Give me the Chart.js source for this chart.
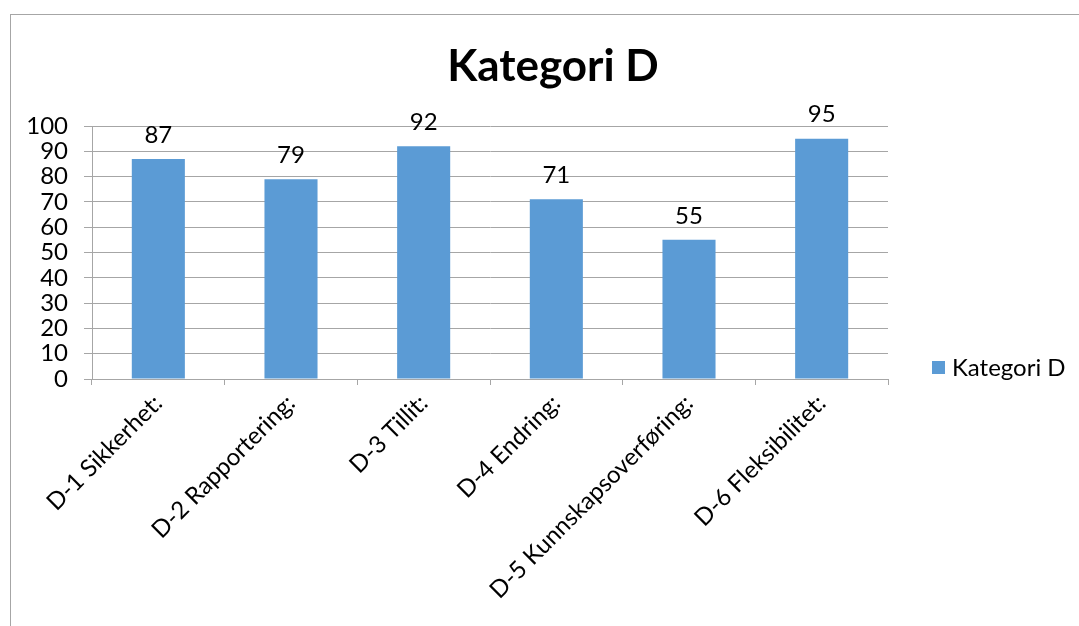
<!DOCTYPE html>
<html>
<head>
<meta charset="utf-8">
<script src="https://cdn.jsdelivr.net/npm/chart.js@4"></script>
<style>
  html, body { margin: 0; padding: 0; background: #fff; overflow: hidden; }
  #wrap { position: relative; width: 1079px; height: 626px; }
  #frame { position: absolute; left: 10px; top: 14px; width: 1100px; height: 700px; border: 1px solid #a6a6a6; }
  canvas { position: absolute; left: 0; top: 0; }
</style>
</head>
<body>
<div id="wrap">
  <div id="frame"></div>
  <canvas id="chart" width="1079" height="626"></canvas>
</div>
<script>
var categories = ["D-1 Sikkerhet:", "D-2 Rapportering:", "D-3 Tillit:", "D-4 Endring:", "D-5 Kunnskapsoverføring:", "D-6 Fleksibilitet:"];
var values = [87, 79, 92, 71, 55, 95];
var seriesName = "Kategori D";
var chartTitle = "Kategori D";

var fontFamily = "Lato, 'Open Sans', sans-serif";
var barColor = "#5b9bd5";
var gridColor = "#a6a6a6";

// Title, value labels and legend drawn on top of the chart
var extras = {
  id: "extras",
  afterDraw: function (chart) {
    var ctx = chart.ctx;
    ctx.save();
    ctx.fillStyle = "#000";

    // title
    ctx.font = "bold 44px " + fontFamily;
    ctx.textAlign = "center";
    ctx.textBaseline = "middle";
    ctx.fillText(chartTitle, 553, 67);

    // value labels
    ctx.font = "24px " + fontFamily;
    ctx.textBaseline = "bottom";
    var meta = chart.getDatasetMeta(0);
    meta.data.forEach(function (bar, i) {
      ctx.fillText(values[i], bar.x, bar.y - 12);
    });

    // legend
    ctx.fillStyle = barColor;
    ctx.fillRect(932, 361, 13, 13);
    ctx.fillStyle = "#000";
    ctx.textAlign = "left";
    ctx.textBaseline = "middle";
    ctx.fillText(seriesName, 952, 368);
    ctx.restore();
  }
};

var ctx = document.getElementById("chart").getContext("2d");
var myChart = new Chart(ctx, {
  type: "bar",
  data: {
    labels: categories,
    datasets: [
      {
        label: seriesName,
        data: values,
        backgroundColor: barColor,
        borderWidth: 0,
        categoryPercentage: 1,
        barPercentage: 0.4,
      },
    ],
  },
  options: {
    responsive: false,
    animation: false,
    layout: {
      padding: { left: 0, right: 191, top: 126, bottom: 0 },
    },
    plugins: {
      legend: { display: false },
      title: { display: false },
      tooltip: { enabled: false },
    },
    scales: {
      x: {
        offset: true,
        grid: {
          offset: true,
          drawOnChartArea: false,
          drawTicks: true,
          tickLength: 6,
          color: gridColor,
        },
        border: { color: gridColor },
        ticks: {
          color: "#000",
          font: { family: fontFamily, size: 24 },
          maxRotation: 45,
          minRotation: 45,
          autoSkip: false,
          padding: 4,
        },
        afterFit: function (scale) {
          scale.height = 247;
        },
      },
      y: {
        min: 0,
        max: 100,
        ticks: {
          stepSize: 10,
          autoSkip: false,
          color: "#000",
          font: { family: fontFamily, size: 24 },
          padding: 16,
        },
        grid: {
          color: gridColor,
          tickLength: 8,
        },
        border: { color: gridColor },
        afterFit: function (scale) {
          scale.width = 92;
        },
      },
    },
  },
  plugins: [extras],
});
</script>
</body>
</html>
